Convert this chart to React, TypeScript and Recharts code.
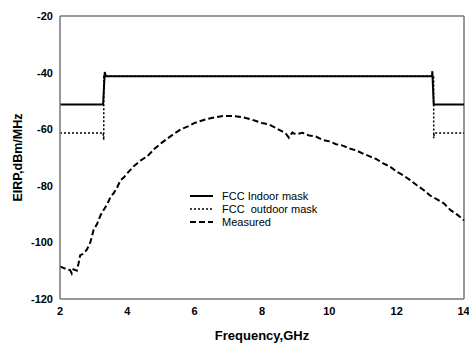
import { LineChart, Line, XAxis, YAxis, ReferenceLine, Label } from 'recharts'

// FCC masks, drawn as stepped outlines (freq GHz, EIRP dBm/MHz)
const indoorFreq = [2, 3.28, 3.33, 3.36, 13.05, 13.06, 13.1, 14]
const indoorVal = [-51.3, -51.3, -39.8, -41.3, -41.3, -39.5, -51.3, -51.3]

const outdoorFreq = [2, 3.28, 3.3, 3.3, 13.1, 13.1, 13.12, 14]
const outdoorVal = [-61.3, -61.3, -63.8, -41.3, -41.3, -63.2, -61.3, -61.3]

const measFreq = [
  2.0, 2.1, 2.2, 2.3, 2.35, 2.4, 2.5, 2.55, 2.6, 2.7, 2.8, 2.9, 3.0, 3.1, 3.2, 3.3, 3.4, 3.5, 3.6, 3.7, 3.8, 3.9,
  4.0, 4.2, 4.4, 4.6, 4.8, 5.0, 5.2, 5.4, 5.6, 5.8, 6.0, 6.2, 6.4, 6.6, 6.8, 7.0, 7.2, 7.4, 7.6, 7.8, 8.0, 8.2,
  8.4, 8.6, 8.7, 8.8, 8.9, 9.0, 9.2, 9.4, 9.6, 9.8, 10.0, 10.2, 10.4, 10.6, 10.8, 11.0, 11.2, 11.4, 11.6, 11.8,
  12.0, 12.2, 12.4, 12.6, 12.8, 13.0, 13.2, 13.4, 13.6, 13.8, 14.0,
]
const measVal = [
  -108.5, -109, -109.5, -109.8, -111, -109.5, -110, -107.5, -104.5, -104, -102.5, -100, -95.5, -93.5, -90.5, -88.5,
  -86.5, -84, -82.5, -80.5, -78, -77, -75.5, -73, -71, -69.5, -67, -65, -63.2, -61.5, -60, -59, -57.8, -57, -56.3,
  -55.8, -55.4, -55.3, -55.4, -55.7, -56.3, -57, -57.8, -58.3, -59.5, -60.8, -61.5, -63, -61.2, -61.8, -61.3, -62.2,
  -62.6, -63.8, -64.3, -65.3, -65.8, -66.8, -67.5, -68.6, -69.6, -70.6, -72.1, -73.2, -75, -76.3, -78, -79.8, -81.5,
  -83.5, -84.8, -86.2, -88.6, -90.2, -92.2,
]

const xTicks = [2, 4, 6, 8, 10, 12, 14]
const yTicks = [-120, -100, -80, -60, -40, -20]

const seriesNames = ['FCC Indoor mask', 'FCC  outdoor mask', 'Measured']

const indoor = indoorFreq.map((f, i) => ({ f, v: indoorVal[i] }))
const outdoor = outdoorFreq.map((f, i) => ({ f, v: outdoorVal[i] }))
const measured = measFreq.map((f, i) => ({ f, v: measVal[i] }))

const font = '"Liberation Sans", Arial, sans-serif'
const frame = '#777777'

const dashes = ['0', '2 2', '6 3']
const widths = [2, 1.5, 2]

function LegendBox() {
  return (
    <div style={{ position: 'absolute', left: 190, top: 190, fontFamily: font, fontSize: 11, color: '#000', lineHeight: '12.8px' }}>
      {seriesNames.map((n, i) => (
        <div key={n} style={{ display: 'flex', alignItems: 'center', whiteSpace: 'pre' }}>
          <svg width={24} height={8} style={{ marginRight: 8 }}>
            <line x1={0} y1={4} x2={23} y2={4} stroke="#000" strokeWidth={widths[i]} strokeDasharray={dashes[i]} />
          </svg>
          <span>{n}</span>
        </div>
      ))}
    </div>
  )
}

export default function App() {
  return (
    <div style={{ position: 'absolute', left: 0, top: 0, width: 469, height: 343, background: '#fff' }}>
      <LineChart width={469} height={343} margin={{ top: 16, right: 5, bottom: 0, left: 0 }}>
        <XAxis
          dataKey="f"
          type="number"
          domain={[2, 14]}
          ticks={xTicks}
          allowDuplicatedCategory={false}
          height={44}
          tickLine={false}
          tickSize={6}
          tickMargin={2}
          axisLine={{ stroke: frame, strokeWidth: 1.5 }}
          tick={{ fontSize: 11, fontWeight: 700, fill: '#000', fontFamily: font }}
        >
          <Label value="Frequency,GHz" position="insideBottom" offset={0} dy={-3}
            style={{ fontSize: 13, fontWeight: 700, fill: '#000', fontFamily: font }} />
        </XAxis>
        <YAxis
          type="number"
          domain={[-120, -20]}
          ticks={yTicks}
          width={60}
          tickLine={false}
          tickSize={5}
          tickMargin={2}
          axisLine={{ stroke: frame, strokeWidth: 1.5 }}
          tick={{ fontSize: 11, fontWeight: 700, fill: '#000', fontFamily: font }}
        >
          <Label value="EIRP,dBm/MHz" angle={-90} position="insideLeft" offset={18}
            style={{ fontSize: 12.5, fontWeight: 700, fill: '#000', fontFamily: font, textAnchor: 'middle' }} />
        </YAxis>
        <ReferenceLine y={-20} stroke={frame} strokeWidth={1.5} />
        <ReferenceLine x={14} stroke={frame} strokeWidth={1.5} />
        <Line data={outdoor} dataKey="v" name={seriesNames[1]} type="linear" stroke="#000" strokeWidth={1.5}
          strokeDasharray="2 2" dot={false} isAnimationActive={false} />
        <Line data={indoor} dataKey="v" name={seriesNames[0]} type="linear" stroke="#000" strokeWidth={2}
          dot={false} isAnimationActive={false} />
        <Line data={measured} dataKey="v" name={seriesNames[2]} type="linear" stroke="#000" strokeWidth={2}
          strokeDasharray="6 3" dot={false} isAnimationActive={false} />
      </LineChart>
      <LegendBox />
    </div>
  )
}
